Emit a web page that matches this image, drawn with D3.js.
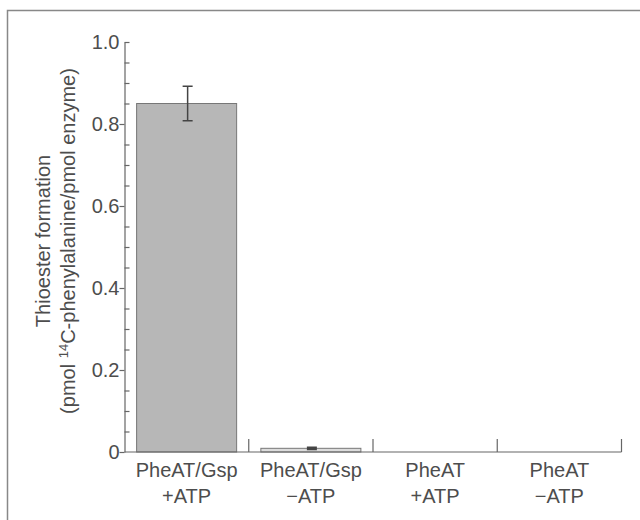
<!DOCTYPE html>
<meta charset="utf-8">
<style>
body { margin: 0; background: #fff; }
svg text {
  font-family: "Liberation Sans", Arial, Helvetica, sans-serif;
  font-size: 20px;
  fill: #4d4d4d;
}
.axis path, .axis line { stroke: #666; stroke-width: 1.2px; fill: none; }
.frame { stroke: #888; stroke-width: 1.5px; fill: none; }
.bar { fill: #b7b7b7; stroke: #777; stroke-width: 1px; }
.bar--low { fill: #dcdcdc; }
.err { stroke: #444; stroke-width: 1.5px; fill: none; }
</style>
<body>
<script src="https://cdn.jsdelivr.net/npm/d3@7"></script>
<script>

// data
var line1 = ["PheAT/Gsp", "PheAT/Gsp", "PheAT", "PheAT"];
var line2 = ["+ATP", "\u2212ATP", "+ATP", "\u2212ATP"];
var values = [0.85, 0.009, 0, 0];
var errors = [0.042, 0.002, 0, 0];
var majorTicks = [0, 0.2, 0.4, 0.6, 0.8, 1.0];
var tickLabels = ["0", "0.2", "0.4", "0.6", "0.8", "1.0"];
var minorTicks = [0.05, 0.1, 0.15, 0.25, 0.3, 0.35, 0.45, 0.5, 0.55, 0.65, 0.7, 0.75, 0.85, 0.9, 0.95, 1.0];

var width = 640,
    height = 520;

var svg = d3.select("body").append("svg")
    .attr("width", width)
    .attr("height", height);

// scanned-page frame (top and left edges only)
svg.append("path")
    .attr("class", "frame")
    .attr("d", "M7.5,520V10.5H640");

var plotL = 124.5, plotR = 621.5, plotT = 42, plotB = 452;

var cats = line1.map(function(d, i) { return i; });

var x = d3.scaleBand()
    .domain(cats)
    .range([plotL, plotR])
    .paddingInner(0)
    .paddingOuter(0);

var y = d3.scaleLinear()
    .domain([0, 1])
    .range([plotB, plotT]);

var barW = x.bandwidth() * 0.805;

// bars
svg.selectAll(".bar")
    .data(values)
  .enter().append("rect")
    .attr("class", function(d, i) { return i == 0 ? "bar" : "bar bar--low"; })
    .attr("x", function(d, i) { return x(i) + (x.bandwidth() - barW) / 2; })
    .attr("width", barW)
    .attr("y", function(d) { return y(d); })
    .attr("height", function(d) { return y(0) - y(d); })
    .style("display", function(d) { return d > 0 ? null : "none"; });

// error bars
svg.selectAll(".err")
    .data(values.map(function(v, i) { return {v: v, e: errors[i], i: i}; })
      .filter(function(d) { return d.e > 0; }))
  .enter().append("path")
    .attr("class", "err")
    .attr("d", function(d) {
      var cx = x(d.i) + x.bandwidth() / 2 + 1,
          y0 = y(d.v + d.e), y1 = y(d.v - d.e), w = 5;
      return "M" + (cx - w) + "," + y0 + "H" + (cx + w) +
             "M" + cx + "," + y0 + "V" + y1 +
             "M" + (cx - w) + "," + y1 + "H" + (cx + w);
    })
    .style("stroke-width", function(d) { return d.i == 0 ? 1.5 : 2; });

// y axis: labelled major ticks outward, minor ticks inward
var yAxis = svg.append("g")
    .attr("class", "axis")
    .attr("transform", "translate(" + plotL + ",0)")
    .call(d3.axisLeft(y)
      .tickValues(majorTicks.slice(0, 5))
      .tickSize(5)
      .tickSizeOuter(0)
      .tickFormat(function(d, i) { return tickLabels[i]; }));

yAxis.attr("font-size", null).attr("font-family", null);

yAxis.selectAll(".tick text")
    .attr("x", -5)
    .attr("dy", "0.34em")
    .attr("fill", null);

// the 1.0 label sits beside an inward tick
yAxis.append("text")
    .attr("x", -5)
    .attr("y", y(majorTicks[5]))
    .attr("dy", "0.34em")
    .attr("text-anchor", "end")
    .text(tickLabels[5]);

svg.append("g")
    .attr("class", "axis")
    .attr("transform", "translate(" + plotL + ",0)")
    .call(d3.axisRight(y)
      .tickValues(minorTicks)
      .tickSize(5)
      .tickSizeOuter(0)
      .tickFormat(""))
    .select(".domain").remove();

// x axis: baseline with upward separators
var xg = svg.append("g").attr("class", "axis");

xg.append("line")
    .attr("x1", plotL).attr("x2", plotR)
    .attr("y1", plotB).attr("y2", plotB);

xg.selectAll(".sep")
    .data(cats)
  .enter().append("line")
    .attr("class", "sep")
    .attr("x1", function(d) { return x(d) + x.bandwidth(); })
    .attr("x2", function(d) { return x(d) + x.bandwidth(); })
    .attr("y1", plotB)
    .attr("y2", plotB - 13);

var lab = xg.selectAll(".lab")
    .data(cats)
  .enter().append("text")
    .attr("class", "lab")
    .attr("text-anchor", "middle")
    .attr("transform", function(d) { return "translate(" + (x(d) + x.bandwidth() / 2) + "," + plotB + ")"; });

lab.append("tspan")
    .attr("x", 0).attr("y", 25)
    .text(function(d) { return line1[d]; });

lab.append("tspan")
    .attr("x", 0).attr("y", 51)
    .text(function(d) { return line2[d]; });

// y axis title
var title = svg.append("text")
    .attr("text-anchor", "middle")
    .attr("transform", "translate(0,241) rotate(-90)");

title.append("tspan")
    .attr("x", 0).attr("y", 50)
    .text("Thioester formation");

var t2 = title.append("tspan")
    .attr("x", 0).attr("y", 75);
t2.append("tspan").text("(pmol ");
t2.append("tspan").attr("dy", -7).style("font-size", "13px").text("14");
t2.append("tspan").attr("dy", 7).text("C-phenylalanine/pmol enzyme)");

</script>
</body>
</html>
